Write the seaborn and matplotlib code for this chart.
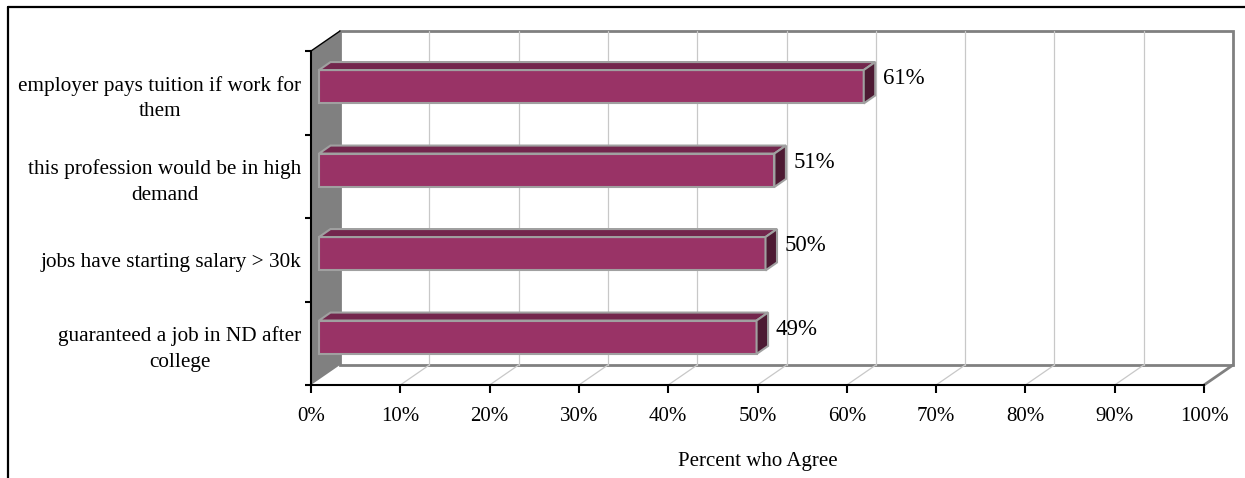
import matplotlib
matplotlib.use("Agg")
import matplotlib.pyplot as plt
import numpy as np
import pandas as pd
import seaborn as sns
from matplotlib.patches import Polygon, Rectangle
from matplotlib.lines import Line2D
from matplotlib.transforms import ScaledTranslation, IdentityTransform

# ---- data -------------------------------------------------------------
categories = [
    "employer pays tuition if work for\nthem",
    "this profession would be in high\ndemand",
    "jobs have starting salary > 30k",
    "guaranteed a job in ND after\ncollege",
]
agree_pct = [61, 51, 50, 49]
x_ticks = [0, 10, 20, 30, 40, 50, 60, 70, 80, 90, 100]
x_tick_labels = [f"{v}%" for v in x_ticks]
axis_title = "Percent who Agree"

# ---- style ------------------------------------------------------------
W, H, DPI = 1245, 478, 100
FRONT = "#993366"
TOP = "#73264d"
SIDE = "#4d1a33"
EDGE = "#a0a0a0"
WALL_EDGE = "#808080"
GRID = "#c8c8c8"

# 3-D look: offsets in pixels (right, up)
WALL = (29, 20)        # depth of the whole plot box
BAR_FRONT = (8, 6)     # where the bar front faces sit inside the box
BAR_DEPTH = (11.5, 8)  # thickness of each bar

sns.set_theme(style="white")
plt.rcParams["font.family"] = ["Liberation Serif", "DejaVu Serif"]
plt.rcParams["text.color"] = "black"

fig = plt.figure(figsize=(W / DPI, H / DPI), dpi=DPI)
ax = fig.add_axes([311 / W, (H - 385) / H, (1204 - 311) / W, (385 - 51) / H])
ax.patch.set_alpha(0)

df = pd.DataFrame({"item": categories, "pct": agree_pct})
sns.barplot(data=df, x="pct", y="item", orient="h", color=FRONT,
            saturation=1, width=0.4, edgecolor=EDGE, linewidth=1.5,
            ax=ax, zorder=5)
ax.set_xlim(0, 100)
ax.set_ylim(3.5, -0.5)


def shift(dx, dy):
    return ax.transData + ScaledTranslation(dx / DPI, dy / DPI, fig.dpi_scale_trans)


def disp(x, y):
    return np.asarray(ax.transData.transform((x, y)), dtype=float)


# back wall
ax.add_patch(Rectangle((0, -0.5), 100, 4, transform=shift(*WALL),
                       facecolor="white", edgecolor=WALL_EDGE, lw=2,
                       zorder=0, clip_on=False))
for v in x_ticks[1:-1]:
    # wall gridline
    ax.plot([v, v], [-0.5, 3.5], transform=shift(*WALL), color=GRID,
            lw=0.9, zorder=0.5, clip_on=False)
    # floor gridline
    p = disp(v, 3.5)
    ax.add_line(Line2D([p[0], p[0] + WALL[0]], [p[1], p[1] + WALL[1]],
                       transform=IdentityTransform(), color=GRID, lw=0.9,
                       zorder=0.5, clip_on=False))

# floor right edge
p = disp(100, 3.5)
ax.add_line(Line2D([p[0], p[0] + WALL[0]], [p[1], p[1] + WALL[1]],
                   transform=IdentityTransform(), color=WALL_EDGE, lw=2,
                   zorder=0.6, clip_on=False))

# left wall
f_top, f_bot = disp(0, -0.5), disp(0, 3.5)
wall_pts = [f_top, f_bot, f_bot + WALL, f_top + WALL]
ax.add_patch(Polygon(wall_pts, closed=True, transform=IdentityTransform(),
                     facecolor="#808080", edgecolor="none", zorder=1,
                     clip_on=False))
ax.add_line(Line2D([f_top[0], f_top[0] + WALL[0]], [f_top[1], f_top[1] + WALL[1]],
                   transform=IdentityTransform(), color="black", lw=1,
                   zorder=1.1, clip_on=False))

# bars: front faces moved into the box, then top and side faces
o1 = np.array(BAR_FRONT, dtype=float)
bd = np.array(BAR_DEPTH, dtype=float)
for bar in list(ax.patches):
    if not isinstance(bar, Rectangle) or bar.get_zorder() != 5:
        continue
    x0, y0 = bar.get_x(), bar.get_y()
    x1, y1 = x0 + bar.get_width(), y0 + bar.get_height()
    bar.set_transform(shift(*BAR_FRONT))
    bar.set_clip_on(False)
    lt = disp(x0, y0) + o1   # left / upper corner
    rt = disp(x1, y0) + o1   # right / upper corner
    rb = disp(x1, y1) + o1   # right / lower corner
    top = [lt, rt, rt + bd, lt + bd]
    side = [rt, rb, rb + bd, rt + bd]
    ax.add_patch(Polygon(top, closed=True, transform=IdentityTransform(),
                         facecolor=TOP, edgecolor=EDGE, lw=1.5, zorder=5.1,
                         joinstyle="miter", clip_on=False))
    ax.add_patch(Polygon(side, closed=True, transform=IdentityTransform(),
                         facecolor=SIDE, edgecolor=EDGE, lw=1.5, zorder=5.1,
                         joinstyle="miter", clip_on=False))

# value labels
for i, v in enumerate(agree_pct):
    ax.text(v, i, f"{v}%", transform=shift(27, 14), ha="left", va="center",
            fontsize=16.5, color="black", zorder=6)

# axes
for side_name in ("top", "right"):
    ax.spines[side_name].set_visible(False)
for side_name in ("left", "bottom"):
    ax.spines[side_name].set_color("black")
    ax.spines[side_name].set_linewidth(1.5)
    ax.spines[side_name].set_zorder(3)

ax.set_xticks(x_ticks, x_tick_labels)
ax.tick_params(axis="x", which="major", bottom=True, length=5.8, width=1.5,
               color="black", labelcolor="black", labelsize=15, pad=10)
ax.set_yticks(range(len(categories)), categories)
ax.set_yticks(np.arange(-0.5, len(categories), 1.0), minor=True)
ax.tick_params(axis="y", which="major", left=False, length=0,
               labelcolor="black", labelsize=15.3, pad=7)
ax.tick_params(axis="y", which="minor", left=True, length=4.3, width=1.5,
               color="black")
for t in ax.get_yticklabels():
    t.set_multialignment("center")
    t.set_linespacing(1.45)

ax.set_ylabel("")
ax.set_xlabel(axis_title, fontsize=15, color="black", labelpad=19)

# outer frame (top and left edges)
fig.add_artist(Line2D([8 / W, 8 / W], [-0.05, 1 - 7 / H],
                      transform=fig.transFigure, color="black", lw=1.6))
fig.add_artist(Line2D([8 / W, 1.05], [1 - 7 / H, 1 - 7 / H],
                      transform=fig.transFigure, color="black", lw=1.6))

fig.savefig("out.png", dpi=DPI, facecolor="white")
